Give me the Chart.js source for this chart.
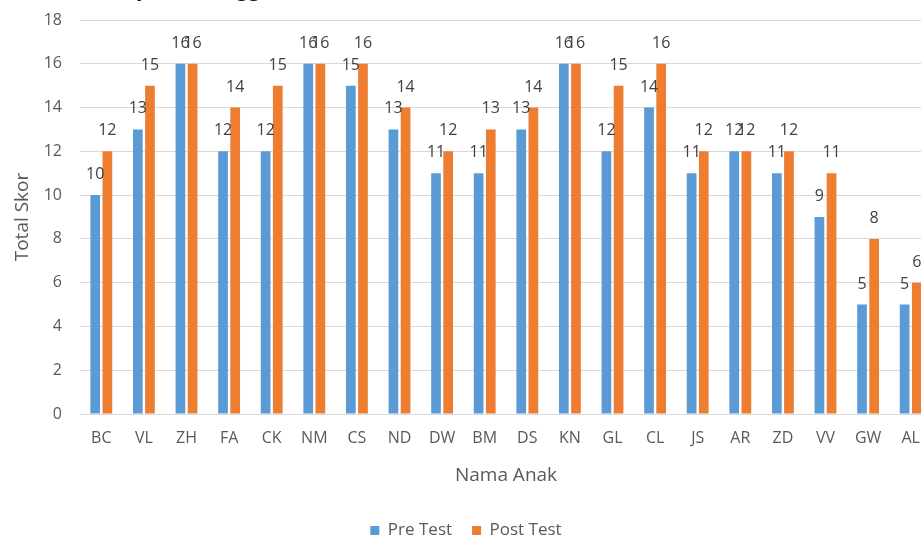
<!DOCTYPE html>
<html>
<head>
<meta charset="utf-8">
<script src="https://cdn.jsdelivr.net/npm/chart.js@4/dist/chart.umd.min.js"></script>
<style>
  html, body { margin: 0; padding: 0; background: #fff; overflow: hidden; width: 921px; height: 541px; }
  #wrap { position: absolute; left: 0; top: 0; width: 944px; height: 549px; }
  #lead { position: absolute; left: 137px; top: -25px; font-family: "Liberation Serif", serif; font-size: 24px; word-spacing: 50px; color: #000; white-space: nowrap; }
</style>
</head>
<body>
<div id="wrap"><canvas id="c" width="944" height="549"></canvas></div>
<div id="lead">y hingga</div>
<script>
// Skor tiap anak sebelum dan sesudah perlakuan
const names = ["BC","VL","ZH","FA","CK","NM","CS","ND","DW","BM","DS","KN","GL","CL","JS","AR","ZD","VV","GW","AL"];
const preTest  = [10,13,16,12,12,16,15,13,11,11,13,16,12,14,11,12,11, 9, 5, 5];
const postTest = [12,15,16,14,15,16,16,14,12,13,14,16,15,16,12,12,12,11, 8, 6];
const yTicks = [0,2,4,6,8,10,12,14,16,18];

const FONT = "'Open Sans', Lato, sans-serif";
const GREY = "#595959";

// Value labels written just above each bar
const valueLabels = {
  id: "valueLabels",
  afterDatasetsDraw(chart) {
    const ctx = chart.ctx;
    ctx.save();
    ctx.font = "16px " + FONT;
    ctx.fillStyle = "#404040";
    ctx.textAlign = "center";
    ctx.textBaseline = "alphabetic";
    chart.data.datasets.forEach((ds, i) => {
      chart.getDatasetMeta(i).data.forEach((bar, j) => {
        ctx.fillText(String(ds.data[j]), bar.x, bar.y - 16);
      });
    });
    ctx.restore();
  }
};

new Chart(document.getElementById("c"), {
  type: "bar",
  data: {
    labels: names,
    datasets: [
      { label: "Pre Test", data: preTest, backgroundColor: "#5B9BD5",
        categoryPercentage: 0.57, barPercentage: 0.8 },
      { label: "Post Test", data: postTest, backgroundColor: "#ED7D31",
        categoryPercentage: 0.57, barPercentage: 0.8 }
    ]
  },
  options: {
    responsive: false,
    devicePixelRatio: 1,
    animation: false,
    layout: { padding: { top: 20, right: 12, left: 0, bottom: 0 } },
    plugins: {
      legend: {
        position: "bottom",
        labels: { font: { family: FONT, size: 17 }, color: GREY, boxWidth: 9, boxHeight: 9, padding: 20 }
      },
      tooltip: { enabled: false }
    },
    scales: {
      x: {
        grid: { display: false, drawTicks: false },
        border: { color: "#D9D9D9", width: 1 },
        ticks: { font: { family: FONT, size: 16 }, color: GREY, padding: 15, maxRotation: 0, autoSkip: false },
        title: { display: true, text: "Nama Anak", font: { family: FONT, size: 19 }, color: GREY, padding: { top: 0, bottom: 15 } },
        afterFit(s) { s.height = 88; }
      },
      y: {
        min: 0, max: 18,
        afterBuildTicks(s) { s.ticks = yTicks.map(v => ({ value: v })); },
        grid: { color: "#D9D9D9", drawTicks: false },
        border: { display: false },
        ticks: { font: { family: FONT, size: 16 }, color: GREY, padding: 18 },
        title: { display: true, text: "Total Skor", font: { family: FONT, size: 19 }, color: GREY, padding: { top: 11, bottom: 0 } },
        afterFit(s) { s.width = 80; s.paddingTop = 0; s.paddingBottom = 0; }
      }
    }
  },
  plugins: [valueLabels]
});
</script>
</body>
</html>
